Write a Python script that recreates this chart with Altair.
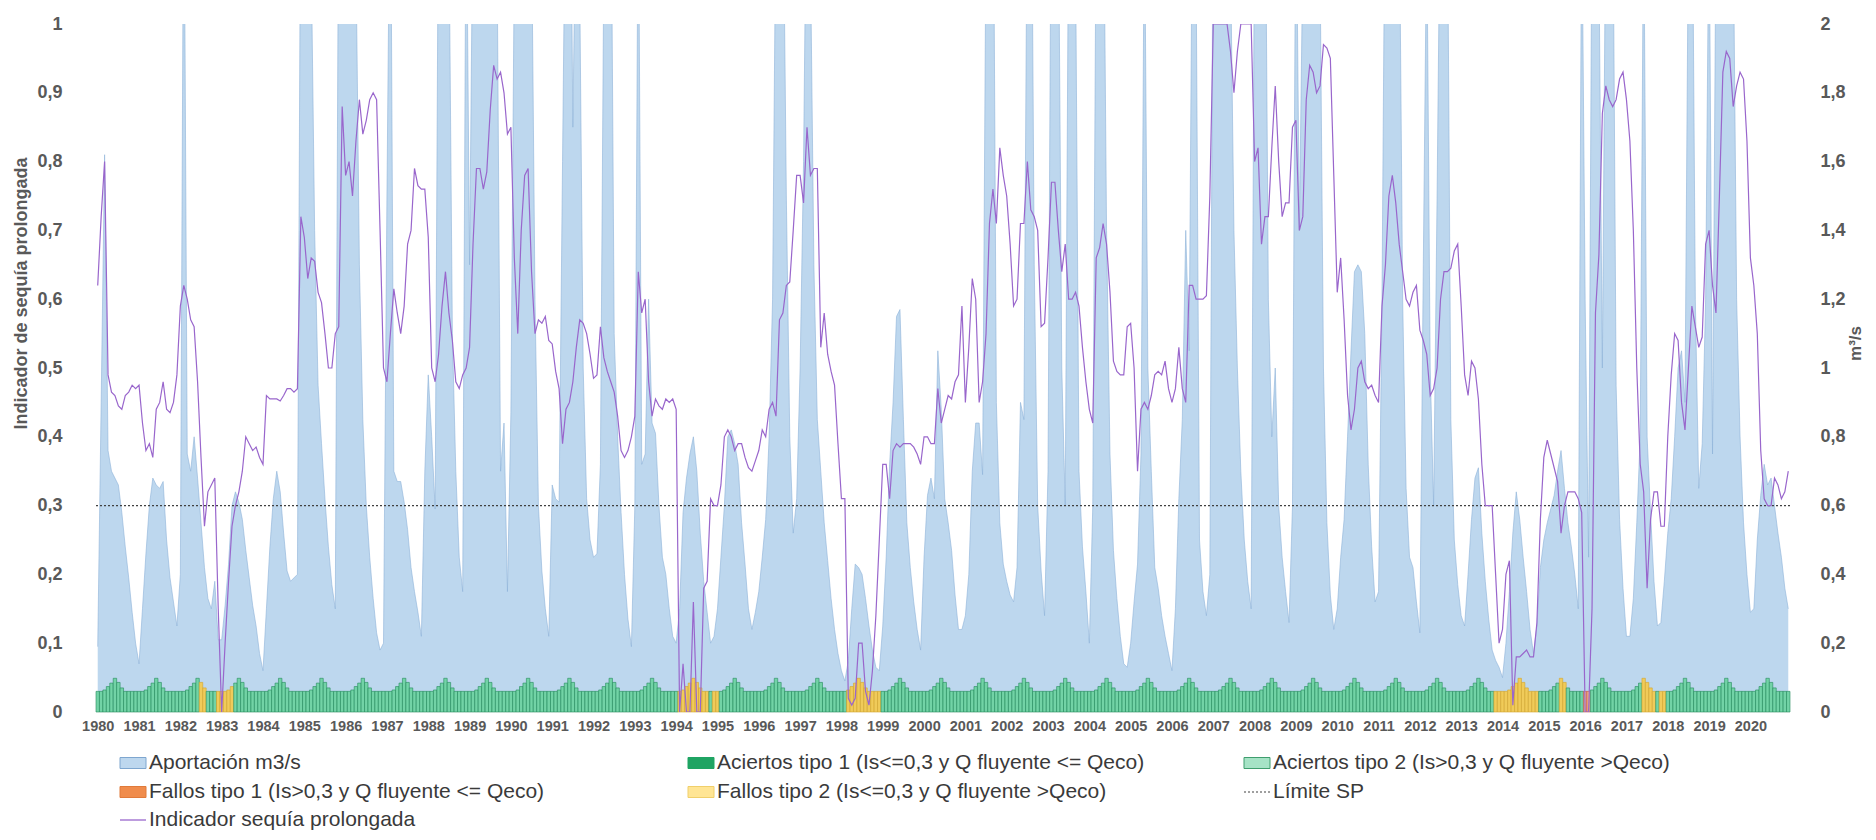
import altair as alt
import pandas as pd

# ---------------- data (monthly, 41 hydrological years 1980..2020) ----------------
YEARS = list(range(1980, 2021))

# Aportación m3/s (right axis, values above 2 are clipped by the chart)
FLOW = [
    0.19, 0.90, 1.62, 0.76, 0.70, 0.68, 0.66, 0.58, 0.48, 0.39, 0.29, 0.20,
    0.14, 0.30, 0.46, 0.60, 0.68, 0.66, 0.65, 0.67, 0.50, 0.39, 0.32, 0.25,
    0.40, 2.60, 0.75, 0.70, 0.80, 0.68, 0.55, 0.42, 0.33, 0.30, 0.38, 0.21,
    0.21, 0.31, 0.43, 0.60, 0.64, 0.61, 0.56, 0.47, 0.39, 0.31, 0.25, 0.17,
    0.12, 0.30, 0.48, 0.62, 0.70, 0.64, 0.52, 0.41, 0.38, 0.39, 0.40, 2.60,
    3.20, 2.80, 2.20, 1.40, 0.95, 0.78, 0.62, 0.48, 0.37, 0.30, 2.50, 3.00,
    2.80, 2.70, 2.40, 2.20, 1.30, 0.85, 0.60, 0.45, 0.33, 0.23, 0.18, 0.20,
    1.50, 2.60, 0.70, 0.67, 0.67, 0.61, 0.53, 0.42, 0.35, 0.29, 0.22, 0.70,
    0.98, 0.80, 0.59, 2.50, 3.00, 2.80, 2.30, 1.10, 0.70, 0.45, 0.35, 2.50,
    1.30, 2.40, 2.80, 3.00, 2.80, 2.40, 2.50, 2.60, 2.20, 0.70, 0.84, 0.35,
    0.87, 2.20, 2.80, 3.00, 2.80, 2.60, 2.30, 1.20, 0.60, 0.41, 0.30, 0.22,
    0.66, 0.62, 0.61, 1.60, 2.60, 2.90, 1.70, 2.50, 2.10, 1.00, 0.62, 0.50,
    0.45, 0.46, 0.72, 2.20, 2.80, 2.60, 1.10, 0.80, 0.58, 0.40, 0.27, 0.19,
    0.60, 2.50, 0.72, 0.75, 1.20, 0.84, 0.81, 0.60, 0.45, 0.40, 0.30, 0.22,
    0.20, 0.30, 0.58, 0.68, 0.75, 0.80, 0.70, 0.52, 0.38, 0.29, 0.20, 0.22,
    0.30, 0.45, 0.60, 0.80, 0.82, 0.78, 0.72, 0.55, 0.43, 0.30, 0.24, 0.29,
    0.35, 0.45, 0.56, 0.80, 1.20, 2.40, 3.00, 2.50, 1.50, 0.80, 0.52, 0.62,
    1.00, 1.60, 2.60, 2.20, 1.30, 0.85, 0.70, 0.55, 0.44, 0.33, 0.24, 0.17,
    0.12, 0.09, 0.15, 0.30, 0.43, 0.42, 0.40, 0.33, 0.25, 0.18, 0.13, 0.12,
    0.25, 0.45, 0.72, 0.90, 1.15, 1.17, 0.85, 0.55, 0.42, 0.32, 0.24, 0.18,
    0.45, 0.63, 0.68, 0.62, 1.05, 0.88, 0.62, 0.55, 0.47, 0.34, 0.24, 0.24,
    0.28, 0.40, 0.70, 0.84, 0.84, 0.69, 2.30, 2.90, 2.70, 0.90, 0.55, 0.43,
    0.38, 0.34, 0.32, 0.42, 0.90, 0.85, 2.50, 2.80, 1.30, 0.60, 0.41, 0.28,
    0.70, 2.60, 2.90, 2.40, 1.00, 0.60, 2.40, 2.70, 2.20, 0.70, 0.48, 0.35,
    0.20, 0.60, 2.40, 2.90, 2.60, 1.40, 0.75, 0.47, 0.33, 0.22, 0.14, 0.13,
    0.20, 0.32, 0.43, 0.75, 2.40, 1.00, 0.70, 0.42, 0.36, 0.28, 0.22, 0.17,
    0.12, 0.30, 0.62, 0.85, 1.40, 1.05, 2.50, 2.20, 0.50, 0.35, 0.28, 0.40,
    2.50, 3.00, 3.20, 3.00, 2.60, 2.20, 1.40, 1.00, 0.70, 0.50, 0.38, 0.30,
    2.40, 2.80, 3.00, 2.60, 1.20, 0.80, 1.00, 0.60, 0.45, 0.35, 0.26, 0.60,
    2.50, 1.40, 2.20, 2.80, 3.00, 2.90, 2.60, 2.20, 1.00, 0.55, 0.34, 0.24,
    0.30, 0.45, 0.56, 0.80, 1.05, 1.28, 1.30, 1.28, 1.10, 0.72, 0.48, 0.32,
    0.35, 1.20, 2.60, 2.90, 3.10, 2.80, 2.40, 1.20, 0.65, 0.45, 0.42, 0.32,
    0.23, 1.30, 2.30, 1.00, 0.60, 1.50, 2.50, 2.80, 2.40, 0.85, 0.50, 0.37,
    0.28, 0.25, 0.40, 0.56, 0.68, 0.71, 0.52, 0.38, 0.27, 0.18, 0.15, 0.13,
    0.10, 0.20, 0.35, 0.52, 0.64, 0.56, 0.45, 0.35, 0.24, 0.17, 0.25, 0.42,
    0.50, 0.55, 0.59, 0.63, 0.70, 0.76, 0.65, 0.55, 0.48, 0.40, 0.30, 2.40,
    1.20, 0.45, 2.40, 2.80, 2.20, 1.00, 2.40, 2.80, 2.50, 0.95, 0.56, 0.36,
    0.22, 0.22, 0.33, 0.55, 0.80, 2.40, 0.80, 0.58, 0.38, 0.25, 0.26, 0.38,
    0.52, 0.62, 0.80, 1.00, 1.05, 0.90, 2.30, 2.60, 1.20, 0.65, 0.78, 1.20,
    2.40, 0.75, 2.30, 2.70, 3.00, 3.10, 2.80, 2.30, 1.20, 0.80, 0.55, 0.40,
    0.29, 0.30, 0.50, 0.63, 0.72, 0.66, 0.68, 0.60, 0.52, 0.45, 0.36, 0.30,
]

# Indicador sequía prolongada (left axis)
INDICATOR = [
    0.62, 0.72, 0.80, 0.49, 0.465, 0.46, 0.445, 0.44, 0.46, 0.465, 0.475, 0.47,
    0.475, 0.42, 0.38, 0.39, 0.37, 0.44, 0.45, 0.48, 0.44, 0.435, 0.45, 0.49,
    0.59, 0.62, 0.60, 0.57, 0.56, 0.48, 0.37, 0.27, 0.32, 0.33, 0.34, 0.15,
    0.0, 0.10, 0.19, 0.27, 0.30, 0.32, 0.35, 0.40, 0.39, 0.38, 0.385, 0.37,
    0.36, 0.46, 0.455, 0.455, 0.455, 0.452, 0.46, 0.47, 0.47, 0.465, 0.47, 0.72,
    0.69, 0.63, 0.66, 0.655, 0.61, 0.595, 0.55, 0.50, 0.50, 0.55, 0.56, 0.88,
    0.78, 0.80, 0.75, 0.83, 0.89, 0.84, 0.86, 0.89, 0.90, 0.89, 0.70, 0.50,
    0.48, 0.55, 0.615, 0.58, 0.55, 0.59, 0.68, 0.70, 0.79, 0.765, 0.76, 0.76,
    0.69, 0.50, 0.48, 0.52, 0.59, 0.64, 0.58, 0.54, 0.48, 0.47, 0.49, 0.50,
    0.53, 0.68, 0.79, 0.79, 0.76, 0.785, 0.875, 0.94, 0.92, 0.93, 0.90, 0.84,
    0.85, 0.66, 0.55, 0.70, 0.78, 0.79, 0.64, 0.55, 0.57, 0.565, 0.575, 0.54,
    0.535, 0.495, 0.47, 0.39, 0.44, 0.45, 0.48, 0.53, 0.57, 0.565, 0.55, 0.52,
    0.485, 0.49, 0.56, 0.515, 0.495, 0.48, 0.465, 0.43, 0.38, 0.37, 0.38, 0.40,
    0.43, 0.64, 0.58, 0.60, 0.48, 0.43, 0.455, 0.445, 0.44, 0.455, 0.45, 0.455,
    0.44, 0.0, 0.07, 0.0, 0.0, 0.16, 0.0, 0.0, 0.18, 0.19, 0.31, 0.30,
    0.30, 0.33, 0.40, 0.41, 0.40, 0.38, 0.39, 0.39, 0.37, 0.355, 0.35, 0.365,
    0.38, 0.41, 0.40, 0.44, 0.45, 0.43, 0.57, 0.58, 0.62, 0.625, 0.70, 0.78,
    0.78, 0.74, 0.85, 0.78, 0.79, 0.79, 0.53, 0.58, 0.52, 0.495, 0.475, 0.39,
    0.31, 0.31, 0.02, 0.01, 0.02, 0.10, 0.10, 0.03, 0.01, 0.06, 0.14, 0.25,
    0.36, 0.36, 0.31, 0.38, 0.39, 0.385, 0.39, 0.39, 0.39, 0.385, 0.375, 0.36,
    0.40, 0.40, 0.39, 0.39, 0.47, 0.42, 0.44, 0.46, 0.455, 0.48, 0.49, 0.59,
    0.45, 0.53, 0.63, 0.60, 0.45, 0.48, 0.55, 0.71, 0.76, 0.71, 0.82, 0.78,
    0.75, 0.68, 0.59, 0.60, 0.71, 0.71, 0.80, 0.73, 0.72, 0.70, 0.56, 0.565,
    0.66, 0.77, 0.77, 0.70, 0.64, 0.68, 0.60, 0.60, 0.61, 0.59, 0.53, 0.48,
    0.44, 0.42, 0.66, 0.675, 0.71, 0.68, 0.61, 0.51, 0.495, 0.49, 0.49, 0.56,
    0.565, 0.50, 0.35, 0.44, 0.45, 0.44, 0.46, 0.49, 0.495, 0.49, 0.51, 0.47,
    0.45, 0.47, 0.53, 0.47, 0.45, 0.62, 0.62, 0.60, 0.60, 0.60, 0.605, 0.75,
    1.0, 1.0, 1.0, 1.0, 1.0, 0.96, 0.90, 0.96, 1.0, 1.0, 1.0, 1.0,
    0.80, 0.82, 0.68, 0.72, 0.72, 0.82, 0.91, 0.80, 0.72, 0.74, 0.74, 0.85,
    0.86, 0.70, 0.72, 0.89, 0.94, 0.93, 0.90, 0.91, 0.97, 0.965, 0.95, 0.78,
    0.61, 0.66, 0.57, 0.46, 0.41, 0.44, 0.50, 0.51, 0.48, 0.47, 0.475, 0.46,
    0.45, 0.59, 0.65, 0.75, 0.78, 0.74, 0.68, 0.64, 0.60, 0.59, 0.61, 0.62,
    0.555, 0.54, 0.52, 0.46, 0.47, 0.50, 0.60, 0.64, 0.64, 0.645, 0.67, 0.68,
    0.59, 0.49, 0.46, 0.51, 0.50, 0.455, 0.36, 0.30, 0.30, 0.30, 0.20, 0.10,
    0.12, 0.20, 0.22, 0.01, 0.08, 0.08, 0.085, 0.09, 0.08, 0.08, 0.13, 0.28,
    0.37, 0.395, 0.375, 0.355, 0.335, 0.26, 0.30, 0.32, 0.32, 0.32, 0.31, 0.29,
    0.0, 0.0, 0.15, 0.58, 0.665, 0.87, 0.91, 0.89, 0.88, 0.89, 0.92, 0.93,
    0.89, 0.83, 0.70, 0.50, 0.36, 0.32, 0.18, 0.28, 0.32, 0.32, 0.27, 0.27,
    0.40, 0.49, 0.55, 0.54, 0.45, 0.41, 0.50, 0.59, 0.56, 0.53, 0.545, 0.68,
    0.70, 0.62, 0.58, 0.75, 0.93, 0.96, 0.95, 0.88, 0.91, 0.93, 0.92, 0.83,
    0.66, 0.62, 0.55, 0.38, 0.31, 0.30, 0.30, 0.34, 0.33, 0.31, 0.32, 0.35,
]

# Qeco bar height through the hydrological year (left-axis units)
QECO_PATTERN = [0.030, 0.030, 0.032, 0.037, 0.042, 0.049, 0.043, 0.035, 0.030, 0.030, 0.030, 0.030]

# months (index) classified as failures
FALLOS_T2_MONTHS = ([30, 31] + list(range(35, 40)) + list(range(169, 178)) + [179, 180]
                    + list(range(218, 228)) + list(range(406, 419)) + [425, 426]
                    + list(range(449, 453)) + [454, 455])
FALLOS_T1_MONTHS = [432, 433]
ACIERTOS_T1_MONTHS = []

CATS = ["Aciertos tipo 1", "Aciertos tipo 2", "Fallos tipo 1", "Fallos tipo 2"]
CAT_FILL = ["#1FA463", "#72D3A6", "#F4B183", "#F0CB5A"]
CAT_STROKE = ["#177A46", "#23895A", "#C0504D", "#D4A52C"]

LEGEND_ITEMS = [
    ("Aportación m3/s", "rect", "#BDD7EE", "#7EA6CF"),
    ("Aciertos tipo 1 (Is<=0,3 y Q fluyente <= Qeco)", "rect", "#1FA463", "#1FA463"),
    ("Aciertos tipo 2 (Is>0,3 y Q fluyente >Qeco)", "rect", "#A6E3C6", "#3F9E6E"),
    ("Fallos tipo 1 (Is>0,3 y Q fluyente <= Qeco)", "rect", "#F08C4C", "#E07A3A"),
    ("Fallos tipo 2 (Is<=0,3 y Q fluyente >Qeco)", "rect", "#FFE594", "#F0CF6A"),
    ("Límite SP", "dash", "#404040", "#404040"),
    ("Indicador sequía prolongada", "line", "#9966CC", "#9966CC"),
]

# ---------------- layout ----------------
W, H = 1694, 688
PLOT_X, PLOT_Y = 96, 24
N = len(FLOW)
LFONT = "Liberation Sans, Arial, sans-serif"


def tx(px):
    """page x pixel -> month units"""
    return (px - PLOT_X) * N / W - 0.5


def ly(py):
    """page y pixel -> left-axis units"""
    return 1 - (py - PLOT_Y) / H


cat = []
for i in range(N):
    if i in FALLOS_T1_MONTHS:
        cat.append(CATS[2])
    elif i in FALLOS_T2_MONTHS:
        cat.append(CATS[3])
    elif i in ACIERTOS_T1_MONTHS:
        cat.append(CATS[0])
    else:
        cat.append(CATS[1])

df = pd.DataFrame({
    "t": list(range(N)),
    "flow": FLOW,
    "ind": INDICATOR,
    "qeco": [QECO_PATTERN[i % 12] for i in range(N)],
    "cat": cat,
})
df["t0"] = df["t"] - 0.5
df["t1"] = df["t"] + 0.5
df["zero"] = 0.0

xscale = alt.Scale(domain=[-0.5, N - 0.5], nice=False, zero=False)
lscale = alt.Scale(domain=[0, 1], nice=False, zero=True)
rscale = alt.Scale(domain=[0, 2], nice=False, zero=True)

xaxis = alt.Axis(values=[12 * k for k in range(len(YEARS))],
                 labelExpr="format(1980 + datum.value / 12, 'd')",
                 title=None, ticks=False, domain=False, grid=False,
                 labelFont=LFONT, labelFontSize=14.5, labelFontWeight="bold",
                 labelColor="#595959", labelPadding=7, labelOverlap=False,
                 labelFlush=False)

left_axis = alt.Axis(values=[round(0.1 * k, 1) for k in range(11)],
                     labelExpr="datum.value == 0 ? '0' : (datum.value == 1 ? '1' : replace(format(datum.value, '.1f'), '.', ','))",
                     title="Indicador de sequía prolongada", titleAngle=-90,
                     titleX=-75, titleY=269, titleAlign="center", titleBaseline="middle",
                     titleFont=LFONT, titleFontSize=18, titleFontWeight="bold", titleColor="#595959",
                     ticks=False, domain=False, grid=False,
                     labelFont=LFONT, labelFontSize=18, labelFontWeight="bold",
                     labelColor="#595959", labelPadding=34)

right_axis = alt.Axis(orient="right", values=[round(0.2 * k, 1) for k in range(11)],
                      labelExpr="abs(datum.value - round(datum.value)) < 0.001 ? format(datum.value, 'd') : replace(format(datum.value, '.1f'), '.', ',')",
                      title="m³/s", titleAngle=-90, titleX=65, titleY=319,
                      titleAlign="center", titleBaseline="middle",
                      titleFont=LFONT, titleFontSize=17, titleFontWeight="bold", titleColor="#595959",
                      ticks=False, domain=False, grid=False,
                      labelFont=LFONT, labelFontSize=18, labelFontWeight="bold",
                      labelColor="#595959", labelPadding=30)

base = alt.Chart(df)

area = base.mark_area(color="#BDD7EE", clip=True, interpolate="linear").encode(
    x=alt.X("t:Q", scale=xscale, axis=xaxis),
    y=alt.Y("flow:Q", scale=rscale, axis=right_axis),
)
area_edge = base.mark_line(color="#8DB2D8", strokeWidth=0.6, clip=True).encode(
    x=alt.X("t:Q", scale=xscale, axis=None),
    y=alt.Y("flow:Q", scale=rscale, axis=None),
)
bars = base.mark_rect(strokeWidth=0.6).encode(
    x=alt.X("t0:Q", scale=xscale, axis=None),
    x2="t1:Q",
    y=alt.Y("qeco:Q", scale=lscale, axis=None),
    y2="zero:Q",
    color=alt.Color("cat:N", scale=alt.Scale(domain=CATS, range=CAT_FILL), legend=None),
    stroke=alt.Stroke("cat:N", scale=alt.Scale(domain=CATS, range=CAT_STROKE), legend=None),
)
limit = alt.Chart(pd.DataFrame({"v": [0.3]})).mark_rule(
    color="#404040", strokeDash=[2, 2], strokeWidth=1.1).encode(
    y=alt.Y("v:Q", scale=lscale, axis=None),
)
line = base.mark_line(color="#9966CC", strokeWidth=1.2, clip=True).encode(
    x=alt.X("t:Q", scale=xscale, axis=None),
    y=alt.Y("ind:Q", scale=lscale, axis=left_axis),
)

# ---------------- legend (below the plot) ----------------
COL_X = [120, 688, 1244]
ROW_Y = [763, 792, 820]
SYM_W, SYM_H, GAP = 26, 11, 3
leg_rows = []
for k, (label, kind, fill, stroke) in enumerate(LEGEND_ITEMS):
    col = [0, 1, 2, 0, 1, 2, 0][k]
    row = [0, 0, 0, 1, 1, 1, 2][k]
    x0 = COL_X[col]
    yc = ROW_Y[row]
    leg_rows.append({
        "label": label, "kind": kind, "fill": fill, "stroke": stroke,
        "x0": tx(x0), "x1": tx(x0 + SYM_W), "xt": tx(x0 + SYM_W + GAP),
        "ytop": ly(yc - SYM_H / 2), "ybot": ly(yc + SYM_H / 2), "yc": ly(yc),
    })
leg = pd.DataFrame(leg_rows)
lbase = alt.Chart(leg)

leg_rect = lbase.transform_filter("datum.kind == 'rect'").mark_rect(strokeWidth=1).encode(
    x=alt.X("x0:Q", scale=xscale, axis=None), x2="x1:Q",
    y=alt.Y("ytop:Q", scale=lscale, axis=None), y2="ybot:Q",
    color=alt.Color("fill:N", scale=None),
    stroke=alt.Stroke("stroke:N", scale=None),
)
leg_dash = lbase.transform_filter("datum.kind == 'dash'").mark_rule(
    strokeDash=[2, 2], strokeWidth=1.1, color="#404040").encode(
    x=alt.X("x0:Q", scale=xscale, axis=None), x2="x1:Q",
    y=alt.Y("yc:Q", scale=lscale, axis=None),
)
leg_line = lbase.transform_filter("datum.kind == 'line'").mark_rule(
    strokeWidth=1.3, color="#9966CC").encode(
    x=alt.X("x0:Q", scale=xscale, axis=None), x2="x1:Q",
    y=alt.Y("yc:Q", scale=lscale, axis=None),
)
leg_text = lbase.mark_text(align="left", baseline="middle", font=LFONT,
                           fontSize=21, color="#3A3A3A").encode(
    x=alt.X("xt:Q", scale=xscale, axis=None),
    y=alt.Y("yc:Q", scale=lscale, axis=None),
    text="label:N",
)

chart = alt.layer(area, area_edge, bars, limit, line,
                  leg_rect, leg_dash, leg_line, leg_text).resolve_scale(
    y="independent"
).resolve_axis(
    x="independent"
).properties(
    width=W, height=H,
    autosize=alt.AutoSizeParams(type="none"),
    padding={"left": PLOT_X - 8, "top": PLOT_Y - 8, "right": 78, "bottom": 120},
    background="white",
).configure_view(strokeWidth=0)

chart.save("out.html", embed_options={"renderer": "svg", "actions": False})
